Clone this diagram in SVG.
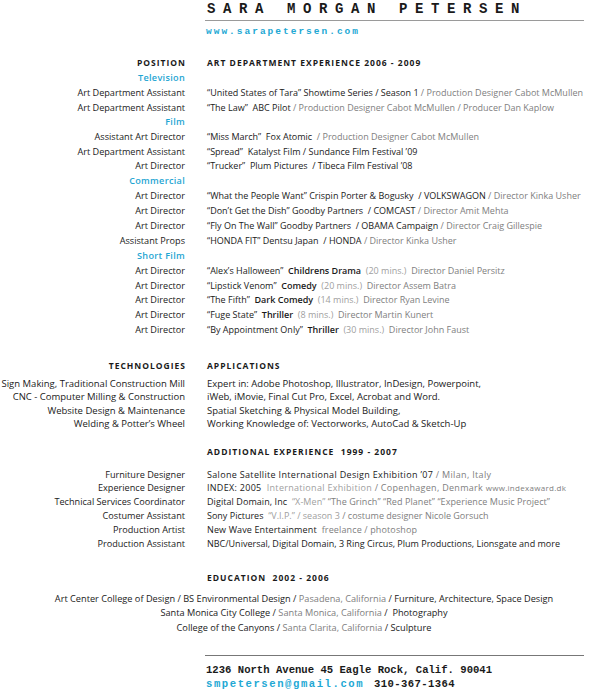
<svg xmlns="http://www.w3.org/2000/svg" width="614" height="691" viewBox="0 0 614 691">
<style>
text{font-family:"Open Sans","Noto Sans","DejaVu Sans",sans-serif;font-size:9px;fill:#1a1a1a;white-space:pre}
.l{text-anchor:end;font-size:9.15px}
.t{font-size:9.5px}
.e{font-size:9.2px}
.h{font-weight:700;font-size:8.5px;letter-spacing:1px}
.c{fill:#1fa6d3;font-weight:600;letter-spacing:0.3px}
.g{fill:#808080}
.lg{fill:#a0a0a0}
.b{font-weight:600}
.m{font-family:"Liberation Mono","Courier New",monospace;font-weight:700}
.ctr{text-anchor:middle}
.cy{fill:#22a8d4}
</style>
<rect width="614" height="691" fill="#ffffff"/>
<g id="header">
<text class="m" x="207" y="13" style="font-size:14px;letter-spacing:7.6px">SARA MORGAN PETERSEN</text>
<line x1="205" y1="20.5" x2="584" y2="20.5" stroke="#9a9a9a" stroke-width="1.2"/>
<text class="m cy" x="206" y="34" style="font-size:9.5px;letter-spacing:2px">www.sarapetersen.com</text>
</g>
<g id="art-department">
<text class="l h" x="186" y="65.5">POSITION</text>
<text class="h" x="207" y="65.5">ART DEPARTMENT EXPERIENCE 2006 - 2009</text>
<text class="l c" x="185" y="81">Television</text>
<text class="l" x="185" y="95.8">Art Department Assistant</text>
<text x="207" y="95.8">“United States of Tara” Showtime Series / Season 1<tspan class="g"> / Production Designer Cabot McMullen</tspan></text>
<text class="l" x="185" y="110.5">Art Department Assistant</text>
<text x="207" y="110.5">“The Law”  ABC Pilot<tspan class="g"> / Production Designer Cabot McMullen / Producer Dan Kaplow</tspan></text>
<text class="l c" x="185" y="125">Film</text>
<text class="l" x="185" y="139.8">Assistant Art Director</text>
<text x="207" y="139.8">“Miss March”  Fox Atomic <tspan class="g"> / Production Designer Cabot McMullen</tspan></text>
<text class="l" x="185" y="154.5">Art Department Assistant</text>
<text x="207" y="154.5">“Spread”  Katalyst Film / Sundance Film Festival ’09</text>
<text class="l" x="185" y="169.3">Art Director</text>
<text x="207" y="169.3">“Trucker”  Plum Pictures  / Tibeca Film Festival ’08</text>
<text class="l c" x="185" y="184.2">Commercial</text>
<text class="l" x="185" y="199">Art Director</text>
<text x="207" y="199">“What the People Want” Crispin Porter &amp; Bogusky  / VOLKSWAGON<tspan class="g"> / Director Kinka Usher</tspan></text>
<text class="l" x="185" y="213.8">Art Director</text>
<text x="207" y="213.8">“Don’t Get the Dish” Goodby Partners  / COMCAST<tspan class="g"> / Director Amit Mehta</tspan></text>
<text class="l" x="185" y="228.7">Art Director</text>
<text x="207" y="228.7">“Fly On The Wall” Goodby Partners  / OBAMA Campaign<tspan class="g"> / Director Craig Gillespie</tspan></text>
<text class="l" x="185" y="243.5">Assistant Props</text>
<text x="207" y="243.5">“HONDA FIT” Dentsu Japan  / HONDA<tspan class="g"> / Director Kinka Usher</tspan></text>
<text class="l c" x="185" y="258.5">Short Film</text>
<text class="l" x="185" y="273.6">Art Director</text>
<text x="207" y="273.6">“Alex’s Halloween”  <tspan class="b">Childrens Drama</tspan><tspan class="lg">  (20 mins.)</tspan><tspan class="g">  Director Daniel Persitz</tspan></text>
<text class="l" x="185" y="288.5">Art Director</text>
<text x="207" y="288.5">“Lipstick Venom”  <tspan class="b">Comedy</tspan><tspan class="lg">  (20 mins.)</tspan><tspan class="g">  Director Assem Batra</tspan></text>
<text class="l" x="185" y="303.4">Art Director</text>
<text x="207" y="303.4">“The Fifth”  <tspan class="b">Dark Comedy</tspan><tspan class="lg">  (14 mins.)</tspan><tspan class="g">  Director Ryan Levine</tspan></text>
<text class="l" x="185" y="318.3">Art Director</text>
<text x="207" y="318.3">“Fuge State”  <tspan class="b">Thriller</tspan><tspan class="lg">  (8 mins.)</tspan><tspan class="g">  Director Martin Kunert</tspan></text>
<text class="l" x="185" y="333.2">Art Director</text>
<text x="207" y="333.2">“By Appointment Only”  <tspan class="b">Thriller</tspan><tspan class="lg">  (30 mins.)</tspan><tspan class="g">  Director John Faust</tspan></text>
</g>
<g id="technologies">
<text class="l h" x="186" y="368.5">TECHNOLOGIES</text>
<text class="h" x="207" y="368.5">APPLICATIONS</text>
<text class="l t" x="185" y="387">Sign Making, Traditional Construction Mill</text>
<text class="t" x="207" y="387">Expert in: Adobe Photoshop, Illustrator, InDesign, Powerpoint,</text>
<text class="l t" x="185" y="400.3">CNC - Computer Milling &amp; Construction</text>
<text class="t" x="207" y="400.3">iWeb, iMovie, Final Cut Pro, Excel, Acrobat and Word.</text>
<text class="l t" x="185" y="413.6">Website Design &amp; Maintenance</text>
<text class="t" x="207" y="413.6">Spatial Sketching &amp; Physical Model Building,</text>
<text class="l t" x="185" y="426.9">Welding &amp; Potter’s Wheel</text>
<text class="t" x="207" y="426.9">Working Knowledge of: Vectorworks, AutoCad &amp; Sketch-Up</text>
</g>
<g id="additional">
<text class="h" x="207" y="454.5">ADDITIONAL EXPERIENCE  1999 - 2007</text>
<text class="l" x="185" y="477.5">Furniture Designer</text>
<text x="207" y="477.5" textLength="284">Salone Satellite International Design Exhibition ’07<tspan class="g"> / Milan, Italy</tspan></text>
<text class="l" x="185" y="491.4">Experience Designer</text>
<text x="207" y="491.4" textLength="359">INDEX: 2005<tspan class="lg">  International Exhibition</tspan><tspan class="g"> / Copenhagen, Denmark </tspan><tspan class="g" style="font-size:8px">www.indexaward.dk</tspan></text>
<text class="l" x="185" y="505.3">Technical Services Coordinator</text>
<text x="207" y="505.3" textLength="343">Digital Domain, Inc <tspan class="lg"> “X-Men”</tspan><tspan class="g"> “The Grinch” “Red Planet” “Experience Music Project”</tspan></text>
<text class="l" x="185" y="519.2">Costumer Assistant</text>
<text x="207" y="519.2">Sony Pictures <tspan class="lg"> “V.I.P.” / season 3</tspan><tspan class="g"> / costume designer Nicole Gorsuch</tspan></text>
<text class="l" x="185" y="533.1">Production Artist</text>
<text x="207" y="533.1" textLength="210">New Wave Entertainment <tspan class="g"> freelance / photoshop</tspan></text>
<text class="l" x="185" y="547">Production Assistant</text>
<text x="207" y="547">NBC/Universal, Digital Domain, 3 Ring Circus, Plum Productions, Lionsgate and more</text>
</g>
<g id="education">
<text class="h" x="207" y="580.5">EDUCATION  2002 - 2006</text>
<text class="ctr e" x="304" y="601.5">Art Center College of Design / BS Environmental Design /<tspan class="g"> Pasadena, California </tspan>/ Furniture, Architecture, Space Design</text>
<text class="ctr e" x="304" y="616">Santa Monica City College /<tspan class="g"> Santa Monica, California </tspan>/  Photography</text>
<text class="ctr e" x="304" y="630.5">College of the Canyons /<tspan class="g"> Santa Clarita, California </tspan>/ Sculpture</text>
</g>
<g id="footer">
<line x1="205" y1="655.5" x2="584" y2="655.5" stroke="#777777" stroke-width="1.2"/>
<text class="m" x="206" y="672.5" style="font-size:10.6px">1236 North Avenue 45 Eagle Rock, Calif. 90041</text>
<text class="m" x="206" y="686.5" style="font-size:10.6px"><tspan class="cy" style="letter-spacing:1.55px">smpetersen@gmail.com</tspan><tspan x="374" style="letter-spacing:0.4px">310-367-1364</tspan></text>
</g>
</svg>
